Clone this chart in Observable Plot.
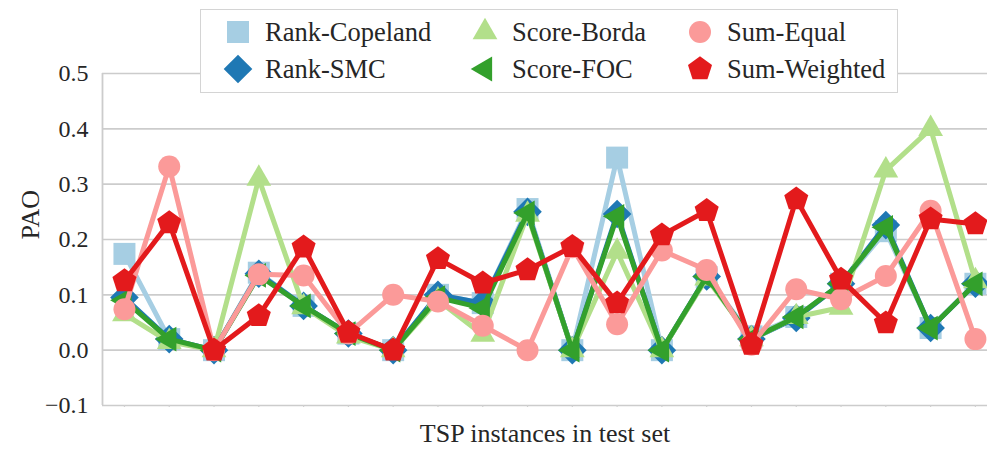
<!DOCTYPE html>
<html>
<head>
<meta charset="utf-8">
<script src="https://cdn.jsdelivr.net/npm/d3@7"></script>
<script src="https://cdn.jsdelivr.net/npm/@observablehq/plot@0.6"></script>
<style>
  html, body { margin: 0; padding: 0; background: #fff; }
  #wrap { position: relative; width: 987px; height: 457px; font-family: "Liberation Serif", "Times New Roman", serif; }
  #legend { position: absolute; left: 200px; top: 9px; width: 698px; height: 84px; background: #fff; border: 1.5px solid #d4d4d4; box-sizing: border-box; }
</style>
</head>
<body>
<div id="wrap"><div id="chart"></div><div id="legend"></div></div>
<script>
// ---- data ----
const instances = d3.range(20);
const seriesNames = ["Rank-Copeland", "Rank-SMC", "Score-Borda", "Score-FOC", "Sum-Equal", "Sum-Weighted"];
const seriesColors = ["#a6cee3", "#1f78b4", "#b2df8a", "#33a02c", "#fb9a99", "#e31a1c"];
const rankCopeland = [0.174, 0.02, 0.0, 0.14, 0.08, 0.03, 0.0, 0.1, 0.085, 0.255, 0.0, 0.348, 0.0, 0.132, 0.025, 0.06, 0.12, 0.215, 0.04, 0.12];
const rankSMC      = [0.095, 0.02, 0.0, 0.138, 0.08, 0.03, 0.0, 0.1, 0.085, 0.25, 0.0, 0.246, 0.0, 0.133, 0.02, 0.058, 0.12, 0.226, 0.04, 0.12];
const scoreBorda   = [0.065, 0.015, 0.0, 0.31, 0.078, 0.025, 0.0, 0.09, 0.028, 0.245, 0.0, 0.178, 0.0, 0.13, 0.02, 0.06, 0.077, 0.325, 0.4, 0.125];
const scoreFOC     = [0.09, 0.02, 0.0, 0.135, 0.08, 0.03, 0.0, 0.095, 0.076, 0.248, 0.0, 0.242, 0.0, 0.133, 0.02, 0.06, 0.12, 0.222, 0.04, 0.12];
const sumEqual     = [0.074, 0.332, 0.0, 0.137, 0.135, 0.03, 0.1, 0.088, 0.044, 0.0, 0.186, 0.047, 0.18, 0.145, 0.01, 0.11, 0.092, 0.134, 0.252, 0.02];
const sumWeighted  = [0.125, 0.23, 0.0, 0.062, 0.186, 0.032, 0.0, 0.165, 0.121, 0.145, 0.187, 0.085, 0.208, 0.252, 0.01, 0.273, 0.128, 0.049, 0.237, 0.228];
const seriesValues = [rankCopeland, rankSMC, scoreBorda, scoreFOC, sumEqual, sumWeighted];
const yTicks = [-0.1, 0.0, 0.1, 0.2, 0.3, 0.4, 0.5];
const xLabel = "TSP instances in test set";
const yLabel = "PAO";

// ---- custom marker symbols ----
function poly(pts) {
  return {draw(ctx, size) {
    const r = Math.sqrt(size / Math.PI);
    pts.forEach(([a, b], i) => i ? ctx.lineTo(a * r, b * r) : ctx.moveTo(a * r, b * r));
    ctx.closePath();
  }};
}
const T = 1.3;
const symSquare = poly([[-1, -1], [1, -1], [1, 1], [-1, 1]]);
const symDiamond = poly([[0, -1.3], [1.3, 0], [0, 1.3], [-1.3, 0]]);
const symTriUp = poly([[0, -T], [T * 0.866, T * 0.5], [-T * 0.866, T * 0.5]]);
const symTriLeft = poly([[-T, 0], [T * 0.5, -T * 0.866], [T * 0.5, T * 0.866]]);
const symCircle = {draw(ctx, size) { const r = Math.sqrt(size / Math.PI); ctx.moveTo(r, 0); ctx.arc(0, 0, r, 0, 2 * Math.PI); }};
const symPentagon = poly(d3.range(5).map(k => {
  const a = -Math.PI / 2 + k * 2 * Math.PI / 5;
  return [1.15 * Math.cos(a), 1.15 * Math.sin(a)];
}));
const seriesSymbols = [symSquare, symDiamond, symTriUp, symTriLeft, symCircle, symPentagon];

const data = seriesNames.flatMap((name, s) => seriesValues[s].map((v, i) => ({name, i: instances[i], v})));

const serif = "'Liberation Serif', 'Times New Roman', serif";
const xDomain = [-0.49, 19.27];
const marks = [
  Plot.gridY(yTicks, {stroke: "#cccccc", strokeOpacity: 1, strokeWidth: 1.6}),
  Plot.ruleX([xDomain[0]], {stroke: "#cccccc", strokeWidth: 1.8}),
  Plot.axisX({ticks: instances, tickSize: 2, tickFormat: () => "", stroke: "#d0d0d0", strokeWidth: 1.2, label: null}),
  Plot.axisY({ticks: yTicks, tickFormat: d3.format(".1f"), tickSize: 0, tickPadding: 14, fontSize: 24, fill: "#262626", label: null})
];
seriesNames.forEach((name, s) => {
  const d = data.filter(e => e.name === name);
  marks.push(Plot.line(d, {x: "i", y: "v", stroke: seriesColors[s], strokeWidth: 5, strokeLinejoin: "round"}));
  marks.push(Plot.dot(d, {x: "i", y: "v", r: 11, symbol: seriesSymbols[s], fill: seriesColors[s], stroke: "none"}));
});
marks.push(Plot.text([xLabel], {frameAnchor: "bottom", dy: 36, fontSize: 26, fill: "#262626"}));
marks.push(Plot.text([yLabel], {frameAnchor: "left", dx: -72, rotate: -90, fontSize: 26, fill: "#262626"}));

const chart = Plot.plot({
  width: 987, height: 457,
  marginLeft: 102, marginRight: 0, marginTop: 73, marginBottom: 52,
  x: {domain: xDomain, axis: null},
  y: {domain: [-0.1, 0.5], axis: null},
  style: {fontFamily: serif, background: "white", overflow: "visible"},
  marks
});
document.getElementById("chart").appendChild(chart);

// ---- legend ----
const lg = d3.select("#legend").append("svg").attr("width", 698).attr("height", 84)
  .style("position", "absolute").style("left", "-1.5px").style("top", "-1.5px").style("overflow", "visible");
const colX = [38, 285, 500];
const rowY = [23, 60];
const order = [[0, 2, 4], [1, 3, 5]];
order.forEach((row, r) => row.forEach((s, c) => {
  const p = d3.path();
  seriesSymbols[s].draw(p, Math.PI * 11 * 11);
  lg.append("path").attr("d", p.toString()).attr("fill", seriesColors[s])
    .attr("transform", `translate(${colX[c]},${rowY[r]})`);
  lg.append("text").attr("x", colX[c] + 27).attr("y", rowY[r]).attr("dy", "0.35em")
    .attr("font-family", serif).attr("font-size", 26.5)
    .attr("fill", "#262626").text(seriesNames[s]);
}));
</script>
</body>
</html>
